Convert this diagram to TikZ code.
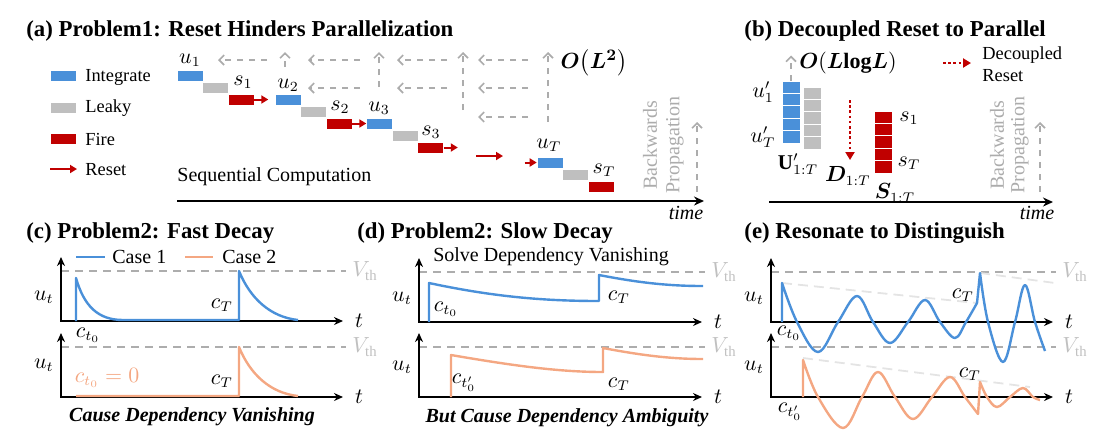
\documentclass[tikz,border=0pt]{standalone}
\usepackage{fontspec}
\setmainfont{Liberation Serif}
\usepackage{amsmath,amssymb,bm}
\usetikzlibrary{arrows.meta,calc}

\definecolor{intblue}{RGB}{74,144,217}
\definecolor{leakgray}{RGB}{191,191,191}
\definecolor{firered}{RGB}{192,0,0}
\definecolor{caseorange}{RGB}{244,167,130}
\definecolor{bpgray}{RGB}{172,172,172}
\definecolor{vthgray}{RGB}{192,192,192}
\definecolor{envgray}{RGB}{228,228,228}

\tikzset{
  cell/.style={minimum width=13pt, minimum height=5.5pt, inner sep=0pt, draw=white, line width=0.3pt},
  intcell/.style={cell, fill=intblue},
  leakcell/.style={cell, fill=leakgray},
  firecell/.style={cell, fill=firered},
  stackcell/.style={minimum width=9pt, minimum height=6.2pt, inner sep=0pt, draw=white, line width=0.5pt},
  resetarr/.style={firered, line width=1pt, -{Triangle[length=3.5pt,width=4pt]}},
  dotarr/.style={firered, line width=1.3pt, dash pattern=on 1.3pt off 1.3pt, -{Triangle[length=4pt,width=4.5pt]}},
  bparr/.style={bpgray, dashed, line width=0.8pt, -{Straight Barb[length=2.5pt,width=5pt]}},
  axis/.style={black, line width=0.9pt, {Stealth[length=4.5pt,width=4pt]}-{Stealth[length=4.5pt,width=4pt]}},
  timeaxis/.style={black, line width=1pt, -{Stealth[length=5pt,width=4.5pt]}},
  vth/.style={vthgray!90!black, dashed, line width=0.8pt, dash pattern=on 4pt off 3pt},
  env/.style={envgray, dashed, line width=0.9pt, dash pattern=on 5pt off 3pt},
  caseone/.style={intblue, line width=1.2pt, line join=round},
  casetwo/.style={caseorange, line width=1.2pt, line join=round},
  title/.style={font=\fontsize{11.4}{13}\selectfont\bfseries, anchor=base west, inner sep=0pt},
  legtext/.style={font=\fontsize{9.2}{11}\selectfont, anchor=west, inner sep=0pt},
  txt/.style={font=\fontsize{10}{12}\selectfont, inner sep=0pt},
  mlab/.style={font=\fontsize{10.5}{12}\selectfont, inner sep=0pt},
  bptext/.style={font=\fontsize{10}{12}\selectfont, text=bpgray, rotate=90, inner sep=0pt},
  caption/.style={font=\fontsize{10}{12}\selectfont\bfseries\itshape, inner sep=0pt},
}

% one integrate / leaky / fire step
\def\lifstep(#1,#2,#3){
  \node[intcell] (int#3) at (#1,#2) {};
  \node[leakcell] (leak#3) at (#1+25.5,#2+12) {};
  \node[firecell] (fire#3) at (#1+51,#2+24) {};
}
% membrane potential axes: origin x, origin y, end of t axis, name, u_t offset
\def\potaxes(#1,#2,#3,#4,#5){
  \draw[vth] (#1,#2-50) -- (#3+3,#2-50);
  \draw[axis] (#1,#2-64) -- (#1,#2) -- (#3,#2);
  \node[mlab] (#4u) at (#1-17,#2-#5) {$u_t$};
  \node[mlab] (#4t) at (#3+16,#2) {$t$};
  \node[mlab, text=vthgray] (#4v) at (#3+22,#2-50) {$V_{\mathrm{th}}$};
}

\begin{document}
\begin{tikzpicture}[x=0.5pt, y=-0.5pt]
\useasboundingbox (0,0) rectangle (1096,435);

% ---------------- (a)
\node[title] (ta) at (26,36) {(a) Problem1: Reset Hinders Parallelization};
\node[cell, fill=intblue] (lgint) at (63,75.5) {};
\node[cell, fill=leakgray] (lgleak) at (63,107.5) {};
\node[cell, fill=firered] (lgfire) at (63,138.5) {};
\coordinate (lgreset) at (50,169);
\draw[resetarr] (lgreset) -- ++(27,0);
\node[legtext] (lginttxt) at (85,77) {Integrate};
\node[legtext] (lgleaktxt) at (85,108) {Leaky};
\node[legtext] (lgfiretxt) at (85,139) {Fire};
\node[legtext] (lgresettxt) at (85,170) {Reset};

\lifstep(190,75.5,1)
\lifstep(288,99.5,2)
\lifstep(379.5,123.5,3)
\lifstep(550,162.5,T)
\node[mlab] (u1) at (190,60) {$u_1$};
\node[mlab] (s1) at (243,82) {$s_1$};
\node[mlab] (u2) at (288,85) {$u_2$};
\node[mlab] (s2) at (340,107) {$s_2$};
\node[mlab] (u3) at (379,108) {$u_3$};
\node[mlab] (s3) at (431,132) {$s_3$};
\node[mlab] (uT) at (549,145) {$u_T$};
\node[mlab] (sT) at (604,170) {$s_T$};
\draw[resetarr] (fire1.east) -- ++(14,0);
\draw[resetarr] (fire2.east) -- ++(14,0);
\draw[resetarr] (fire3.east) -- ++(14,0);
\coordinate (midreset) at (476,156);
\draw[resetarr] (midreset) -- ++(27,0);
\draw[resetarr] ([xshift=-6pt]intT.west) -- (intT.west);

\draw[bparr] (267,60) -- (218,60);
\draw[bparr] (360,60) -- (308,60);
\draw[bparr] (447,60) -- (397,60);
\draw[bparr] (528,60) -- (478,60);
\draw[bparr] (360,88) -- (308,88);
\draw[bparr] (447,88) -- (397,88);
\draw[bparr] (528,88) -- (478,88);
\draw[bparr] (528,117) -- (478,117);
\draw[bparr] (285,67) -- (285,52);
\draw[bparr] (379,87) -- (379,52);
\draw[bparr] (463,110) -- (463,52);
\draw[bparr] (548,122) -- (548,52);
\node[mlab, font=\fontsize{11}{13}\selectfont] (oa) at (594,63) {$\bm{O}\bigl(\bm{L}^{\bm{2}}\bigr)$};

\node[txt, anchor=west] (seq) at (177,177) {Sequential Computation};
\node[bptext] (bwa) at (650,145) {Backwards};
\node[bptext] (pra) at (675,145) {Propagation};
\draw[bparr] (697,192) -- (697,122);
\draw[timeaxis] (177,201) -- (704,201);
\node[txt, font=\fontsize{10}{12}\selectfont\itshape] (tma) at (686,213) {time};

% ---------------- (b)
\node[title] (tb) at (744,36) {(b) Decoupled Reset to Parallel};
\foreach \k in {0,...,4} {
  \node[stackcell, fill=intblue] (U\k) at (791,87.2+12.4*\k) {};
  \node[stackcell, fill=leakgray] (L\k) at (812,93.2+12.4*\k) {};
  \node[stackcell, fill=firered] (S\k) at (883,117.2+12.4*\k) {};
}
\draw[bparr] (U0.north) -- ++(0,-25);
\node[mlab, font=\fontsize{11}{13}\selectfont] (ob) at (848,63) {$\bm{O}(\bm{L}\mathbf{log}\bm{L})$};
\node[mlab] (ub1) at (763,92) {$u'_1$};
\node[mlab] (ubT) at (763,137) {$u'_T$};
\node[mlab] (Ub) at (798,164) {$\mathbf{U}'_{1:T}$};
\draw[dotarr] (850,100) -- (850,160);
\node[mlab] (Db) at (848,176) {$\bm{D}_{1:T}$};
\node[mlab] (sb1) at (909,118) {$s_1$};
\node[mlab] (sbT) at (909,163) {$s_T$};
\node[mlab] (Sb) at (895,193) {$\bm{S}_{1:T}$};
\coordinate (lgdec) at (943,63);
\draw[dotarr] (lgdec) -- ++(28,0);
\node[legtext, align=left, font=\fontsize{9.2}{11}\selectfont] (lgdectxt) at (982,64) {Decoupled\\Reset};
\node[bptext] (bwb) at (997,145) {Backwards};
\node[bptext] (prb) at (1020,145) {Propagation};
\draw[bparr] (1040,192) -- (1040,122);
\draw[timeaxis] (769,202) -- (1053,202);
\node[txt, font=\fontsize{10}{12}\selectfont\itshape] (tmb) at (1037,213) {time};

% ---------------- (c)
\node[title] (tc) at (26,238) {(c) Problem2: Fast Decay};
\draw[caseone] (76,257) -- (105,257);
\node[txt, anchor=west] (c1txt) at (112,257) {Case 1};
\draw[casetwo] (185,257) -- (213,257);
\node[txt, anchor=west] (c2txt) at (222,257) {Case 2};
\potaxes(61,321,343,ca,24)
\potaxes(61,397,343,cb,32)
\draw[caseone] (76,321) -- (76,278) .. controls (84,306) and (98,320) .. (123,320) -- (239,320) -- (239,271) .. controls (250,298) and (270,317) .. (298,320);
\draw[casetwo] (76,396) -- (239,396) -- (239,347) .. controls (250,374) and (270,393) .. (298,396);
\node[mlab] (cct0) at (88,335) {$c_{t_0}$};
\node[mlab] (ccT) at (222,305) {$c_T$};
\node[mlab, text=caseorange] (cct0b) at (107,378) {$c_{t_0}=0$};
\node[mlab] (ccTb) at (222,381) {$c_T$};
\node[caption] (capc) at (192,417) {Cause Dependency Vanishing};

% ---------------- (d)
\node[title] (td) at (357,238) {(d) Problem2: Slow Decay};
\node[txt] (solve) at (551,257) {Solve Dependency Vanishing};
\potaxes(419,322,702,da,24)
\potaxes(419,397,702,db,30)
\draw[caseone] (429,322) -- (429,283) .. controls (490,296) and (540,301) .. (599,301) -- (599,275) .. controls (640,283) and (670,286) .. (703,286);
\draw[casetwo] (451,397) -- (451,355) .. controls (515,366) and (560,372) .. (603,372) -- (603,348) .. controls (640,355) and (670,359) .. (703,359);
\node[mlab] (dct0) at (446,309) {$c_{t_0}$};
\node[mlab] (dcT) at (619,297) {$c_T$};
\node[mlab] (dct0b) at (464,383) {$c_{t'_0}$};
\node[mlab] (dcTb) at (619,384) {$c_T$};
\node[caption] (capd) at (567,418) {But Cause Dependency Ambiguity};

% ---------------- (e)
\node[title] (te) at (744,238) {(e) Resonate to Distinguish};
\potaxes(771,322,1053,ea,24)
\potaxes(771,397,1053,eb,30)
\draw[env] (782,283) -- (977,303);
\draw[env] (980,273) -- (1055,283);
\draw[env] (803,358) -- (1030,387);
\draw[caseone] (782,322) -- (782,283) -- plot[smooth, tension=0.6] coordinates {(782,283) (797,322) (818,352) (838,322) (857,296) (873,322) (890,343) (908,322) (925,300) (940,322) (955,338) (966,322) (977,303)} -- (980,273) -- plot[smooth, tension=0.6] coordinates {(980,273) (988,322) (1003,362) (1015,322) (1025,285) (1035,322) (1045,351)};
\draw[casetwo] (803,397) -- (803,360) -- plot[smooth, tension=0.6] coordinates {(803,360) (818,397) (843,428) (862,397) (878,372) (895,397) (913,419) (932,397) (950,377) (965,397) (978,414)} -- (980,382) -- plot[smooth, tension=0.6] coordinates {(980,382) (987,397) (997,407) (1010,397) (1023,388) (1033,397) (1040,400)};
\node[mlab] (ect0) at (789,333) {$c_{t_0}$};
\node[mlab] (ecT) at (963,295) {$c_T$};
\node[mlab] (ect0b) at (790,412) {$c_{t'_0}$};
\node[mlab] (ecTb) at (970,374) {$c_T$};
\end{tikzpicture}
\end{document}
